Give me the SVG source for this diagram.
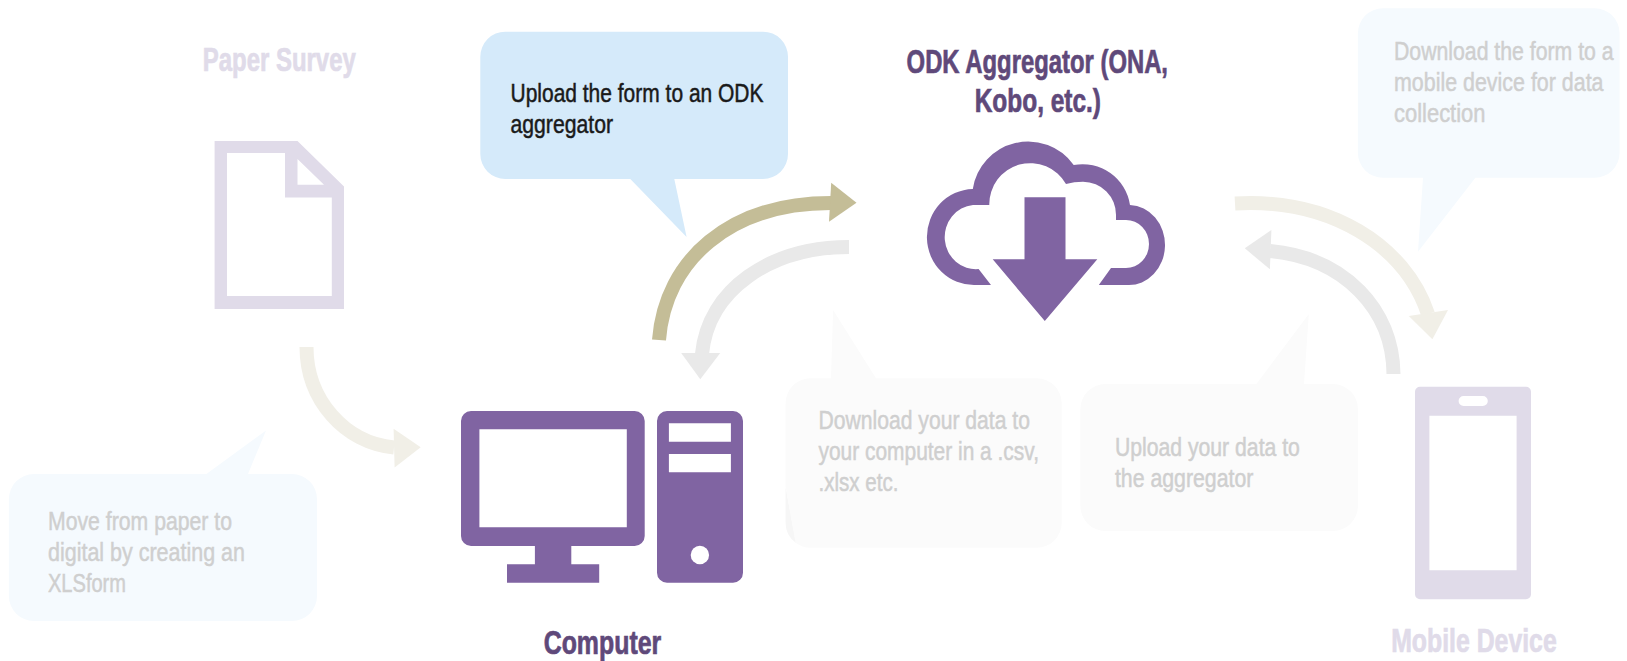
<svg xmlns="http://www.w3.org/2000/svg" width="1627" height="661" viewBox="0 0 1627 661">
<style>
text{font-family:"Liberation Sans Narrow","Liberation Sans",Arial,sans-serif}
.h{font-size:33px;font-weight:700;stroke-width:.7}
.b{font-size:26px;stroke-width:.5}
.hd{fill:#5f497a;stroke:#5f497a}
.hf{fill:#e0dbe9;stroke:#e0dbe9}
.bd{fill:#1a1a1a;stroke:#1a1a1a}
.bf{fill:#cfcfcf;stroke:#cfcfcf}
.p{fill:#8064a2}
.pf{fill:#e0dbe9}
.w{fill:#fff}
.cn{fill:none;stroke-width:14}
</style>
<rect width="1627" height="661" fill="#fff"/>
<g id="connectors">
<path class="cn" stroke="#f1efe7" d="M306.500 347C306.500 400 345 443 394 447.500"/>
<polygon fill="#f1efe7" points="393.600,428.700 420.700,447.300 394.600,467.500"/>
<path class="cn" stroke="#c4bd97" d="M659 340C665 260 730 203 831 203"/>
<polygon fill="#c4bd97" points="831.200,182.700 856.500,202.700 829,221.700"/>
<path class="cn" stroke="#e9e9e9" d="M849 247C770 247 708 290 702 354"/>
<polygon fill="#e9e9e9" points="681.200,353 720.200,353 700.300,379.300"/>
<path class="cn" stroke="#f1efe7" d="M1235 203.500C1330 198 1405 245 1428 314"/>
<polygon fill="#f1efe7" points="1408.800,316 1448,310 1432.400,339.300"/>
<path class="cn" stroke="#e9e9e9" d="M1393.500 374C1393 310 1345 258 1270 251"/>
<polygon fill="#e9e9e9" points="1271.400,230 1244.800,248.300 1269.900,269.300"/>
</g>
<g id="paper-survey">
<path class="pf" fill-rule="evenodd" d="M214.600 141H297.500L344 186.500V309H214.600ZM227 153V296H331.800V197.500H285V153ZM297.500 159V184.800H324Z"/>
<text class="h hf" x="202.800" y="70.600" textLength="153" lengthAdjust="spacingAndGlyphs">Paper Survey</text>
</g>
<g id="computer">
<path class="p" fill-rule="evenodd" d="M471 411H634.700a10 10 0 0 1 10 10V536a10 10 0 0 1-10 10H571.300V564.300H599.200V582.700H507V564.300H534.900V546H471a10 10 0 0 1-10-10V421a10 10 0 0 1 10-10ZM479.400 429.300V527.300H626.800V429.300Z"/>
<path class="p" fill-rule="evenodd" d="M667 411H733a10 10 0 0 1 10 10V572.700a10 10 0 0 1-10 10H667a10 10 0 0 1-10-10V421a10 10 0 0 1 10-10ZM668.900 423.300V441.700H730.900V423.300ZM668.900 454V472.300H730.900V454Z"/>
<ellipse class="w" cx="699.900" cy="555" rx="9.200" ry="9.200"/>
<text class="h hd" x="543.700" y="654.200" textLength="117.500" lengthAdjust="spacingAndGlyphs">Computer</text>
</g>
<g id="aggregator">
<path class="p" d="M991 285H975A47 48 0 0 1 972.800 189A56 56 0 0 1 1073.700 165A48 48 0 0 1 1130 205A36 40 0 0 1 1128 285H1098.800L1111 268H1126A23 24 0 0 0 1126 220H1116V215A33 33 0 0 0 1083 181.700Q1074 181.700 1066 184A41 41 0 0 0 989.300 205H973A31 32 0 0 0 978.600 269Z"/>
<path class="p" d="M1024.500 197.300H1065.500V259.300H1097.300L1044.800 321L992.700 259.300H1024.500Z"/>
<text class="h hd" x="906.600" y="72.700" textLength="261.400" lengthAdjust="spacingAndGlyphs">ODK Aggregator (ONA,</text>
<text class="h hd" x="974.700" y="111.700" textLength="126.300" lengthAdjust="spacingAndGlyphs">Kobo, etc.)</text>
</g>
<g id="mobile-device">
<path class="pf" fill-rule="evenodd" d="M1420 386.700H1526a5 5 0 0 1 5 5V594.300a5 5 0 0 1-5 5H1420a5 5 0 0 1-5-5V391.700a5 5 0 0 1 5-5ZM1429.400 415.700V570.300H1516.600V415.700ZM1463.600 396a5 5 0 0 0 0 10H1482.800a5 5 0 0 0 0-10Z"/>
<text class="h hf" x="1391.200" y="652" textLength="165.500" lengthAdjust="spacingAndGlyphs">Mobile Device</text>
</g>
<g id="note-xlsform">
<path fill="#f5fafe" d="M33.900 474H206.400L266 430.400L248 474H292a25 25 0 0 1 25 25V596a25 25 0 0 1-25 25H33.900a25 25 0 0 1-25-25V499a25 25 0 0 1 25-25Z"/>
<text class="b bf" x="48" y="529.500" textLength="184" lengthAdjust="spacingAndGlyphs">Move from paper to</text>
<text class="b bf" x="48" y="560.800" textLength="197" lengthAdjust="spacingAndGlyphs">digital by creating an</text>
<text class="b bf" x="48" y="591.500" textLength="78" lengthAdjust="spacingAndGlyphs">XLSform</text>
</g>
<g id="note-upload-form">
<path fill="#d5eafa" d="M505.300 31.700H763a25 25 0 0 1 25 25V154a25 25 0 0 1-25 25H674.300L686.600 237L630.300 179H505.300a25 25 0 0 1-25-25V56.700a25 25 0 0 1 25-25Z"/>
<text class="b bd" x="510.500" y="102" textLength="253" lengthAdjust="spacingAndGlyphs">Upload the form to an ODK</text>
<text class="b bd" x="510.500" y="133" textLength="102.500" lengthAdjust="spacingAndGlyphs">aggregator</text>
</g>
<g id="note-download-form">
<path fill="#f5fafe" d="M1382.900 8.300H1594.600a25 25 0 0 1 25 25V152.700a25 25 0 0 1-25 25H1475.400L1418 251.700L1423 177.700H1382.900a25 25 0 0 1-25-25V33.300a25 25 0 0 1 25-25Z"/>
<text class="b bf" x="1394" y="60.300" textLength="219.600" lengthAdjust="spacingAndGlyphs">Download the form to a</text>
<text class="b bf" x="1394" y="91" textLength="209.500" lengthAdjust="spacingAndGlyphs">mobile device for data</text>
<text class="b bf" x="1394" y="122" textLength="91.500" lengthAdjust="spacingAndGlyphs">collection</text>
</g>
<g id="note-download-data">
<path fill="#f6f6f6" d="M785.600 487V522.700a25 25 0 0 0 10.400 20.300Z"/>
<path fill="#fbfbfb" d="M810.600 378.300H831L833.100 310L876 378.300H1036.700a25 25 0 0 1 25 25V522.700a25 25 0 0 1-25 25H810.600a25 25 0 0 1-15-5L785.600 487V403.300a25 25 0 0 1 25-25Z"/>
<text class="b bf" x="818.500" y="428.700" textLength="211.500" lengthAdjust="spacingAndGlyphs">Download your data to</text>
<text class="b bf" x="818.500" y="459.700" textLength="220.500" lengthAdjust="spacingAndGlyphs">your computer in a .csv,</text>
<text class="b bf" x="818.500" y="491" textLength="80" lengthAdjust="spacingAndGlyphs">.xlsx etc.</text>
</g>
<g id="note-upload-data">
<path fill="#fbfbfb" d="M1105.400 384H1256.400L1308.800 314L1304 384H1332.900a25 25 0 0 1 25 25V506a25 25 0 0 1-25 25H1105.400a25 25 0 0 1-25-25V409a25 25 0 0 1 25-25Z"/>
<text class="b bf" x="1114.900" y="456" textLength="185" lengthAdjust="spacingAndGlyphs">Upload your data to</text>
<text class="b bf" x="1114.900" y="487" textLength="138.500" lengthAdjust="spacingAndGlyphs">the aggregator</text>
</g>
</svg>
